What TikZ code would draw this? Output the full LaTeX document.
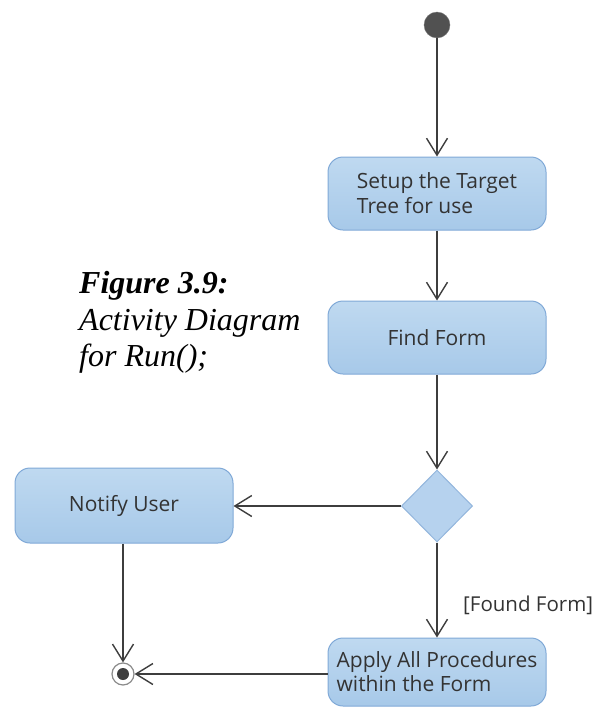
\documentclass[tikz,border=0pt]{standalone}
\usepackage{fontspec}
\setmainfont{Liberation Serif}
\newfontfamily\uifont{Open Sans}
\usetikzlibrary{shapes.geometric,arrows.meta}
\definecolor{boxtop}{HTML}{BFD9F0}
\definecolor{boxbot}{HTML}{A7C9E9}
\definecolor{boxline}{HTML}{80A9D7}
\definecolor{decfill}{HTML}{B6D2EE}
\definecolor{flow}{HTML}{3E3E3E}
\definecolor{uitext}{HTML}{333333}
\tikzset{
  action/.style={draw=boxline, line width=1pt, rounded corners=15pt,
    top color=boxtop, bottom color=boxbot,
    minimum width=218pt, inner sep=0pt, align=left,
    font=\uifont\fontsize{21}{25}\selectfont, text=uitext},
  decision/.style={diamond, draw=boxline!85!white, line width=1pt, fill=decfill,
    minimum width=71pt, minimum height=72pt, inner sep=0pt},
  flowarrow/.style={draw=flow, line width=1.6pt,
    -{Straight Barb[length=17pt,width=21pt,line width=1.4pt]}},
  caption/.style={font=\fontsize{32}{36}\selectfont\itshape, anchor=base west, inner sep=0pt}
}
\begin{document}
\begin{tikzpicture}[x=1pt,y=-1pt]
  \useasboundingbox (0,0) rectangle (610,707);

  % initial and final states
  \node[circle, fill=flow!90, draw=flow!70, minimum size=26pt, inner sep=0pt] (start) at (437,25) {};
  \node[circle, draw=flow!60, line width=1.2pt, fill=white, minimum size=22pt, inner sep=0pt] (end) at (123,674) {};
  \fill[flow] (end) circle (6pt);

  % actions
  \node[action, minimum height=73pt] (setup) at (437,193.5)
    {Setup the Target\\Tree for use};
  \node[action, minimum height=73pt] (find) at (437,337.5) {Find Form};
  \node[decision] (dec) at (437,506) {};
  \node[action, minimum height=75pt] (notify) at (124,505.5) {Notify User};
  \node[action, minimum height=68pt, font=\uifont\fontsize{21}{24}\selectfont] (apply) at (437,672)
    {Apply All Procedures\\within the Form};

  % guard
  \node[font=\uifont\fontsize{20.5}{24}\selectfont, text=uitext, anchor=west, inner sep=0pt] (guard) at (463,605) {[Found Form]};

  % caption
  \node[caption, font=\fontsize{32}{36}\selectfont\bfseries\itshape] (cap1) at (79,293) {Figure 3.9:};
  \node[caption] (cap2) at (79,330) {Activity Diagram};
  \node[caption] (cap3) at (79,366) {for Run();};

  % control flow
  \draw[flowarrow] (start) -- (setup);
  \draw[flowarrow] (setup) -- (find);
  \draw[flowarrow] (find) -- (dec);
  \draw[flowarrow] (dec.west) -- (notify.east |- dec.west);
  \draw[flowarrow] (dec) -- (apply);
  \draw[flowarrow] (notify.south -| end) -- (end);
  \draw[flowarrow] (apply.west |- end) -- (end);
\end{tikzpicture}
\end{document}
